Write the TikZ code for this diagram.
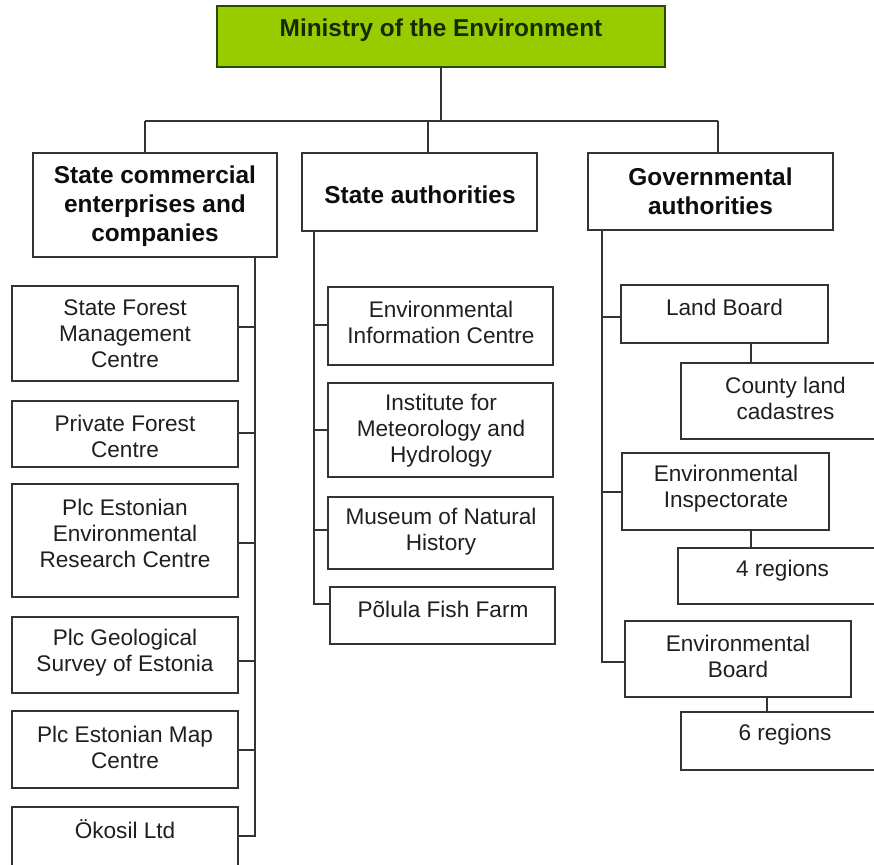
\documentclass[tikz,border=0pt]{standalone}
\usepackage{fontspec}
\setmainfont{Liberation Sans}
\definecolor{mingreen}{RGB}{153,204,0}
\definecolor{minedge}{RGB}{40,75,0}
\definecolor{mintext}{RGB}{22,42,0}
\newcommand\orgbox[9]{%
  \node[box,minimum width={(#5-#3)*1pt},minimum height={(#6-#4)*1pt}] (#2) at ({(#3+#5)/2},{(#4+#6)/2}) {};
  \node[#1] (#2t) at (#7,#8) {#9};}
\begin{document}
\begin{tikzpicture}[x=1pt,y=-1pt,
  ln/.style={line width=1.4pt, draw=black!80},
  box/.style={ln, rectangle, inner sep=0pt, outer sep=0pt},
  txt/.style={font=\fontsize{22.6}{26}\selectfont, align=center, text=black!88, inner sep=0pt},
  btxt/.style={font=\fontsize{24.4}{29}\selectfont\bfseries, align=center, text=black!95, inner sep=0pt},
]
\useasboundingbox (0,0) rectangle (874,864);
\clip (0,0) rectangle (874,864);

% top
\node[draw=minedge, fill=mingreen, line width=2pt, minimum width=448pt, minimum height=61pt, inner sep=0pt, outer sep=0pt] (min) at (441,36.5) {};
\node[btxt, text=mintext] (mint) at (441,30) {Ministry of the Environment};

\orgbox{btxt}{sce}{33}{153}{277}{257}{155}{206}{State commercial\\enterprises and\\companies}
\orgbox{btxt}{sa}{302}{153}{537}{231}{420}{195}{State authorities}
\orgbox{btxt}{ga}{588}{153}{833}{230}{710.5}{191}{Governmental\\authorities}

% left column
\orgbox{txt}{sfmc}{12}{286}{238}{381}{125}{334}{State Forest\\Management\\Centre}
\orgbox{txt}{pfc}{12}{401}{238}{467}{125}{436}{Private Forest\\Centre}
\orgbox{txt}{eerc}{12}{484}{238}{597}{125}{533}{Plc Estonian\\Environmental\\Research Centre}
\orgbox{txt}{gse}{12}{617}{238}{693}{125}{653}{Plc Geological\\Survey of Estonia}
\orgbox{txt}{emc}{12}{711}{238}{788}{125}{747}{Plc Estonian Map\\Centre}
\orgbox{txt}{oko}{12}{807}{238}{880}{125}{829}{Ökosil Ltd}

% middle column
\orgbox{txt}{eic}{328}{287}{553}{365}{441}{322}{Environmental\\Information Centre}
\orgbox{txt}{imh}{328}{383}{553}{477}{441}{431}{Institute for\\Meteorology and\\Hydrology}
\orgbox{txt}{mnh}{328}{497}{553}{569}{441}{532}{Museum of Natural\\History}
\orgbox{txt}{pff}{330}{587}{555}{644}{443}{609}{Põlula Fish Farm}

% right column
\orgbox{txt}{lb}{621}{285}{828}{343}{724.5}{307}{Land Board}
\orgbox{txt}{clc}{681}{363}{890}{439}{785.5}{398}{County land\\cadastres}
\orgbox{txt}{ei}{622}{453}{829}{530}{726}{489}{Environmental\\Inspectorate}
\orgbox{txt}{rfour}{678}{548}{887}{604}{782.5}{571}{4 regions}
\orgbox{txt}{eb}{625}{621}{851}{697}{738}{656}{Environmental\\Board}
\orgbox{txt}{rsix}{681}{712}{889}{770}{785}{735}{6 regions}

% top connectors
\coordinate (busL) at (145,121);
\coordinate (busR) at (718,121);
\draw[ln] (min.south) -- (min.south |- busL);
\draw[ln] (busL) -- (busR);
\draw[ln] (busL) -- (sce.north -| busL);
\draw[ln] (sa.north -| 428,0) -- (428,121);
\draw[ln] (busR) -- (ga.north -| busR);

% left trunk
\draw[ln] (sce.south -| 255,0) -- (255,836) -- (oko.east |- 0,836);
\draw[ln] (sfmc.east |- 0,327) -- (255,327);
\draw[ln] (pfc.east |- 0,433) -- (255,433);
\draw[ln] (eerc.east |- 0,543) -- (255,543);
\draw[ln] (gse.east |- 0,661) -- (255,661);
\draw[ln] (emc.east |- 0,750) -- (255,750);

% middle trunk
\draw[ln] (sa.south -| 314,0) -- (314,604) -- (pff.west |- 0,604);
\draw[ln] (314,325) -- (eic.west |- 0,325);
\draw[ln] (314,430) -- (imh.west |- 0,430);
\draw[ln] (314,530) -- (mnh.west |- 0,530);

% right trunk
\draw[ln] (ga.south -| 602,0) -- (602,662) -- (eb.west |- 0,662);
\draw[ln] (602,317) -- (lb.west |- 0,317);
\draw[ln] (602,492) -- (ei.west |- 0,492);
\draw[ln] (lb.south -| 751,0) -- (clc.north -| 751,0);
\draw[ln] (ei.south -| 751,0) -- (rfour.north -| 751,0);
\draw[ln] (eb.south -| 767,0) -- (rsix.north -| 767,0);
\end{tikzpicture}
\end{document}
